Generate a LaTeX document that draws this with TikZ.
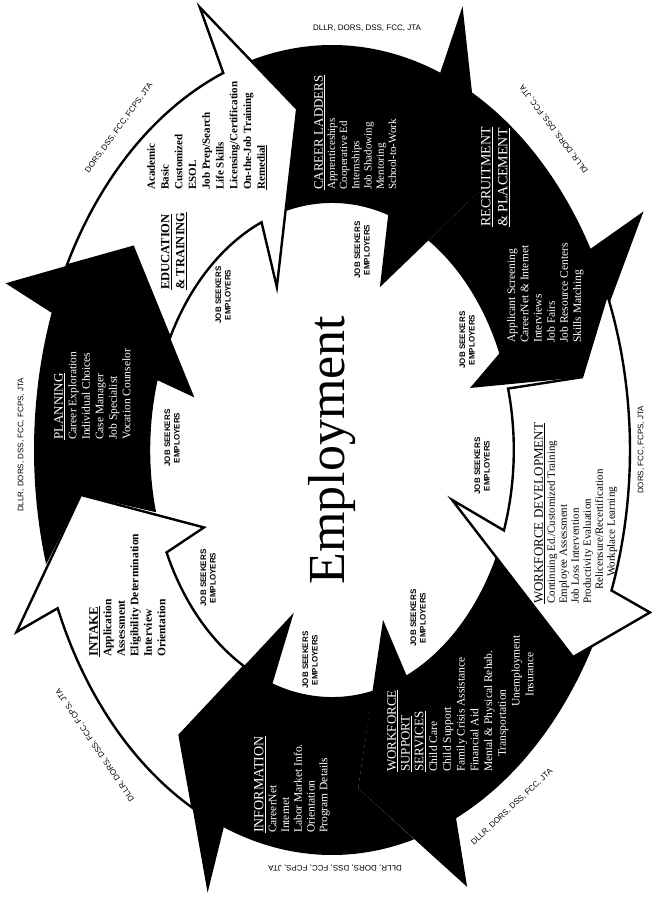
\documentclass[tikz,border=0pt]{standalone}
\usepackage{fontspec}
\setmainfont{Liberation Serif}
\setsansfont{Liberation Sans}
\begin{document}
\begin{tikzpicture}[x=1pt,y=1pt,
    ringout/.style={x radius=298pt,y radius=405pt},
    ringin/.style={x radius=181.8pt,y radius=247.05pt},
    blackarrow/.style={fill=black},
    whitearrow/.style={fill=white,draw=black,line width=2.4pt},
    darkbox/.style={rotate=90,anchor=north west,inner sep=0pt,align=left,text=white,font=\fontsize{11.5}{13.5}\selectfont},
    lightbox/.style={rotate=90,anchor=north west,inner sep=0pt,align=left,font=\bfseries\fontsize{11.5}{13.5}\selectfont},
    seekers/.style={rotate=90,inner sep=0pt,align=center,font=\sffamily\bfseries\fontsize{8}{9.5}\selectfont},
    agencies/.style={inner sep=0pt,font=\sffamily\fontsize{8}{9}\selectfont}]
  \useasboundingbox (0,0) rectangle (652,898);
  \begin{scope}[shift={(332,448)}]
    % barbs and tips at the eight joins
    \coordinate (P1) at (203:342.7pt and 465.8pt);
    \coordinate (T1) at (187.5:253.3pt and 344.3pt);
    \coordinate (Q1) at (204:140.1pt and 190.4pt);
    \coordinate (P2) at (159.4:348.7pt and 473.9pt);
    \coordinate (T2) at (143.1:248.8pt and 338.2pt);
    \coordinate (Q2) at (164.3:143.0pt and 194.4pt);
    \coordinate (P3) at (112.1:351.6pt and 477.9pt);
    \coordinate (T3) at (97.9:253.3pt and 344.3pt);
    \coordinate (Q3) at (114.7:132.0pt and 179.4pt);
    \coordinate (P4) at (68.2:351.6pt and 477.9pt);
    \coordinate (T4) at (52:244.4pt and 332.1pt);
    \coordinate (Q4) at (68.2:129.0pt and 175.4pt);
    \coordinate (P5) at (29.4:357.6pt and 486.0pt);
    \coordinate (T5) at (12.1:255.7pt and 347.5pt);
    \coordinate (Q5) at (18.3:145.4pt and 197.6pt);
    \coordinate (P6) at (-20.6:339.7pt and 461.7pt);
    \coordinate (T6) at (-32.3:285.2pt and 387.6pt);
    \coordinate (Q6) at (-17:125.5pt and 170.5pt);
    \coordinate (P7) at (-67.2:348.7pt and 473.9pt);
    \coordinate (T7) at (-84:250.3pt and 340.2pt);
    \coordinate (Q7) at (-67.8:135.0pt and 183.5pt);
    \coordinate (P8) at (-110.9:348.7pt and 473.9pt);
    \coordinate (T8) at (-126:259.3pt and 352.4pt);
    \coordinate (Q8) at (-107.7:125.8pt and 170.9pt);
    % black arrows
    \fill[blackarrow] (196.4:298pt and 405pt) arc[ringout,start angle=196.4,end angle=160.2] -- (P2) -- (T2) -- (Q2)
      -- (163.6:181.8pt and 247.05pt) arc[ringin,start angle=163.6,end angle=194.6] -- (T1) -- cycle;
    \fill[blackarrow] (105.9:298pt and 405pt) arc[ringout,start angle=105.9,end angle=68.7] -- (P4) -- (T4) -- (Q4)
      -- (72:181.8pt and 247.05pt) arc[ringin,start angle=72,end angle=104.8] -- (T3) -- cycle;
    \fill[blackarrow] (62.8:298pt and 405pt) arc[ringout,start angle=62.8,end angle=29.8] -- (P5) -- (T5) -- (Q5)
      -- (23:181.8pt and 247.05pt) arc[ringin,start angle=23,end angle=58] -- (T4) -- cycle;
    \fill[blackarrow] (-28.9:298pt and 405pt) arc[ringout,start angle=-28.9,end angle=-65.4] -- (P7) -- (T7) -- (Q7)
      -- (-65.8:181.8pt and 247.05pt) arc[ringin,start angle=-65.8,end angle=-25.6] -- (T6) -- cycle;
    \fill[blackarrow] (-74:298pt and 405pt) arc[ringout,start angle=-74,end angle=-111.3] -- (P8) -- (T8) -- (Q8)
      -- (-109.1:181.8pt and 247.05pt) arc[ringin,start angle=-109.1,end angle=-77] -- (T7) -- cycle;
    % white arrows
    \draw[whitearrow] (242.1:298pt and 405pt) arc[ringout,start angle=242.1,end angle=203] -- (P1) -- (T1) -- (Q1)
      -- (204.5:181.8pt and 247.05pt) arc[ringin,start angle=204.5,end angle=241.1] -- (T8) -- cycle;
    \draw[whitearrow] (152.9:298pt and 405pt) arc[ringout,start angle=152.9,end angle=111.4] -- (P3) -- (T3) -- (Q3)
      -- (112.8:181.8pt and 247.05pt) arc[ringin,start angle=112.8,end angle=153] -- (T2) -- cycle;
    \draw[whitearrow] (22.6:298pt and 405pt) arc[ringout,start angle=22.6,end angle=-20.3] -- (P6) -- (T6) -- (Q6)
      -- (-19:181.8pt and 247.05pt) arc[ringin,start angle=-19,end angle=14.4] -- (T5) -- cycle;
  \end{scope}

  \node[rotate=90,font=\fontsize{52}{52}\selectfont] (emp) at (332,448) {Employment};

  % agencies round the ring
  \node[agencies] (agtop) at (367,870) {DLLR, DORS, DSS, FCC, JTA};
  \node[agencies,rotate=127] (agtr) at (554,769) {DLLR, DORS, DSS, FCC, JTA};
  \node[agencies,rotate=90] (agright) at (641,448) {DORS, FCC, FCPS, JTA};
  \node[agencies,rotate=43] (agbr) at (512,91) {DLLR, DORS, DSS, FCC, JTA};
  \node[agencies,rotate=180] (agbot) at (335,30) {DLLR, DORS, DSS, FCC, FCPS, JTA};
  \node[agencies,rotate=124] (agbl) at (95,153) {DLLR, DORS, DSS, FCC, FCPS, JTA};
  \node[agencies,rotate=90] (agleft) at (21,453) {DLLR, DORS, DSS, FCC, FCPS, JTA};
  \node[agencies,rotate=54] (agtl) at (119,770) {DORS, DSS, FCC, FCPS, JTA};

  % job seekers / employers
  \node[seekers] (js1) at (208,320) {JOB SEEKERS\\EMPLOYERS};
  \node[seekers] (js2) at (172,460) {JOB SEEKERS\\EMPLOYERS};
  \node[seekers] (js3) at (223,603) {JOB SEEKERS\\EMPLOYERS};
  \node[seekers] (js4) at (362,648) {JOB SEEKERS\\EMPLOYERS};
  \node[seekers] (js5) at (467,558) {JOB SEEKERS\\EMPLOYERS};
  \node[seekers] (js6) at (482,432) {JOB SEEKERS\\EMPLOYERS};
  \node[seekers] (js7) at (418,280) {JOB SEEKERS\\EMPLOYERS};
  \node[seekers] (js8) at (310,238) {JOB SEEKERS\\EMPLOYERS};

  % contents of the arrows
  \node[lightbox] (intake) at (89,241) {{\fontsize{13}{15}\selectfont\underline{INTAKE}}\\Application\\Assessment\\Eligibility Determination\\Interview\\Orientation};
  \node[darkbox] (planning) at (54,458) {{\fontsize{13}{15}\selectfont\underline{PLANNING}}\\Career Exploration\\Individual Choices\\Case Manager\\Job Specialist\\Vocation Counselor};
  \node[lightbox,font=\bfseries\fontsize{12.5}{15}\selectfont] (eduhead) at (161,608) {\underline{EDUCATION}\\\underline{\& TRAINING}};
  \node[lightbox,font=\bfseries\fontsize{11}{13.75}\selectfont] (edulist) at (147,708) {Academic\\Basic\\Customized\\ESOL\\Job Prep/Search\\Life Skills\\Licensing/Certification\\On-the-Job Training\\\underline{Remedial}};
  \node[darkbox,font=\fontsize{11}{12.2}\selectfont] (career) at (314,708) {{\fontsize{13}{15}\selectfont\underline{CAREER LADDERS}}\\Apprenticeships\\Cooperative Ed\\Internships\\Job Shadowing\\Mentoring\\School-to-Work};
  \node[darkbox,font=\fontsize{14}{17}\selectfont] (recruithead) at (481,671) {\underline{RECRUITMENT}\\\underline{\& PLACEMENT}};
  \node[darkbox,font=\fontsize{11.5}{13.2}\selectfont] (recruitlist) at (507,555) {Applicant Screening\\CareerNet \& Internet\\Interviews\\Job Fairs\\Job Resource Centers\\Skills Matching};
  \node[lightbox,font=\fontsize{11}{12}\selectfont] (devel) at (534,294) {{\fontsize{13}{14}\selectfont\underline{WORKFORCE DEVELOPMENT}}\\Continuing Ed./Customized Training\\Employee Assessment\\Job Loss Intervention\\Productivity Evaluation\\\hspace*{14pt}Relicensure/Recertification\\\hspace*{27pt}Workplace Learning};
  \node[darkbox,font=\fontsize{11.5}{13.75}\selectfont] (support) at (387,126) {{\fontsize{13}{14}\selectfont\underline{WORKFORCE}}\\{\fontsize{13}{14}\selectfont\underline{SUPPORT}}\\{\fontsize{13}{14}\selectfont\underline{SERVICES}}\\Child Care\\Child Support\\Family Crisis Assistance\\Financial Aid\\Mental \& Physical Rehab.\\\hspace*{15pt}Transportation\\\hspace*{65pt}Unemployment\\\hspace*{75pt}Insurance};
  \node[darkbox,font=\fontsize{11.5}{12.8}\selectfont] (info) at (254,65) {{\fontsize{14}{16}\selectfont\underline{INFORMATION}}\\CareerNet\\Internet\\Labor Market Info.\\Orientation\\Program Details};
\end{tikzpicture}
\end{document}
